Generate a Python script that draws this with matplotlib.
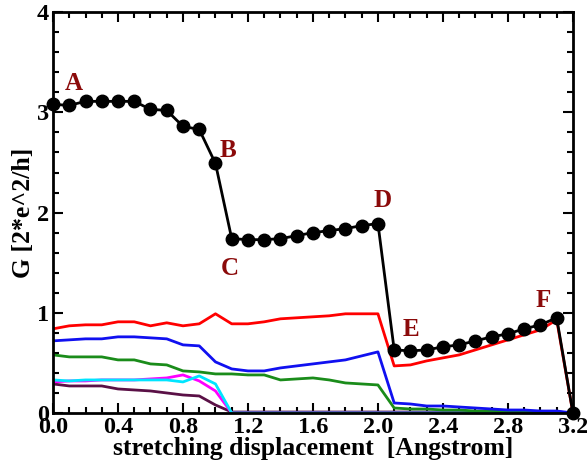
import numpy as np
import matplotlib
matplotlib.use('Agg')
import matplotlib.pyplot as plt
from matplotlib.ticker import MultipleLocator

# displacement grid (Angstrom)
x = [round(0.1 * i, 1) for i in range(33)]

# total conductance
g_total = [3.08, 3.07, 3.11, 3.11, 3.11, 3.11, 3.03, 3.02, 2.86, 2.83, 2.49,
           1.74, 1.73, 1.73, 1.74, 1.77, 1.80, 1.82, 1.84, 1.87, 1.89,
           0.63, 0.62, 0.63, 0.66, 0.68, 0.72, 0.76, 0.79, 0.84, 0.88, 0.95, 0.0]

# eigenchannel contributions
ch_red = [0.84, 0.87, 0.88, 0.88, 0.91, 0.91, 0.87, 0.90, 0.87, 0.89, 0.99,
          0.89, 0.89, 0.91, 0.94, 0.95, 0.96, 0.97, 0.99, 0.99, 0.99,
          0.47, 0.48, 0.52, 0.55, 0.58, 0.63, 0.68, 0.73, 0.78, 0.83, 0.93, 0.0]
ch_blue = [0.72, 0.73, 0.74, 0.74, 0.76, 0.76, 0.75, 0.74, 0.68, 0.67, 0.51,
           0.44, 0.42, 0.42, 0.45, 0.47, 0.49, 0.51, 0.53, 0.57, 0.61,
           0.10, 0.09, 0.07, 0.07, 0.06, 0.05, 0.04, 0.03, 0.03, 0.02, 0.02, 0.0]
ch_green = [0.58, 0.56, 0.56, 0.56, 0.53, 0.53, 0.49, 0.48, 0.42, 0.41, 0.39,
            0.39, 0.38, 0.38, 0.33, 0.34, 0.35, 0.33, 0.30, 0.29, 0.28,
            0.05, 0.04, 0.04, 0.03, 0.03, 0.02, 0.02, 0.01, 0.01, 0.01, 0.01, 0.0]
ch_magenta = [0.31, 0.32, 0.32, 0.33, 0.33, 0.33, 0.34, 0.35, 0.38, 0.32, 0.22,
              0.0] + [0.0] * 21
ch_cyan = [0.33, 0.32, 0.33, 0.33, 0.33, 0.33, 0.33, 0.33, 0.31, 0.37, 0.29,
           0.0] + [0.0] * 21
ch_purple = [0.29, 0.27, 0.27, 0.27, 0.24, 0.23, 0.22, 0.20, 0.18, 0.17, 0.08,
             0.01] + [0.01] * 20 + [0.0]

labels = ['A', 'B', 'C', 'D', 'E', 'F']
label_x = [0.13, 1.08, 1.09, 2.03, 2.20, 3.02]
label_y = [3.29, 2.62, 1.44, 2.12, 0.83, 1.12]

plt.rcParams['font.family'] = ['Liberation Serif', 'DejaVu Serif']
plt.rcParams['font.weight'] = 'bold'

fig = plt.figure(figsize=(5.87, 4.68), dpi=100)
ax = fig.add_axes([0.0903, 0.1175, 0.8857, 0.8565])

ax.plot(x, ch_purple, color='#5a1046', lw=2)
ax.plot(x, ch_magenta, color='#ff00ff', lw=2)
ax.plot(x, ch_cyan, color='#00e5ff', lw=2)
ax.plot(x, ch_green, color='#1a8c1a', lw=2)
ax.plot(x, ch_blue, color='#1010f0', lw=2)
ax.plot(x, ch_red, color='#ff0000', lw=2)
ax.plot(x, g_total, color='black', lw=2, marker='o', ms=9, clip_on=False, zorder=5)

for t, lx, ly in zip(labels, label_x, label_y):
    ax.text(lx, ly, t, color='#8b0a0a', fontsize=18, fontweight='bold',
            ha='center', va='center')

ax.set_xlim(0, 3.2)
ax.set_ylim(0, 4)
ax.xaxis.set_major_locator(MultipleLocator(0.4))
ax.xaxis.set_minor_locator(MultipleLocator(0.1))
ax.yaxis.set_major_locator(MultipleLocator(1))
ax.yaxis.set_minor_locator(MultipleLocator(0.2))
ax.xaxis.set_major_formatter(plt.FormatStrFormatter('%.1f'))
ax.tick_params(which='both', direction='in', top=True, right=True, width=1.5)
ax.tick_params(which='major', length=7, labelsize=17.5, pad=3)
ax.tick_params(which='minor', length=4)
for s in ax.spines.values():
    s.set_linewidth(2)

ax.set_xlabel('stretching displacement  [Angstrom]', fontsize=18.5, fontweight='bold', labelpad=-1)
ax.set_ylabel('G [2*e^2/h]', fontsize=18.5, fontweight='bold', labelpad=1)

plt.savefig('out.png', dpi=100)
